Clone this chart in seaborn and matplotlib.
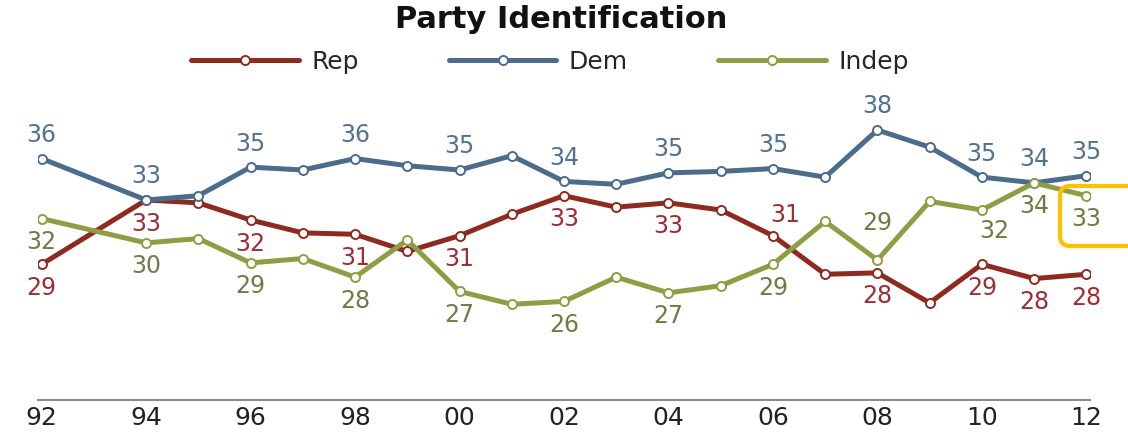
import matplotlib
matplotlib.use("Agg")
import matplotlib.pyplot as plt
import seaborn as sns
from matplotlib.patches import FancyBboxPatch
from matplotlib.transforms import IdentityTransform

# Daten (1993 fehlt, Linie wird durchgezogen)
years = [1992, 1994, 1995, 1996, 1997, 1998, 1999, 2000, 2001, 2002,
         2003, 2004, 2005, 2006, 2007, 2008, 2009, 2010, 2011, 2012]
rep = [28.6, 33.1, 32.9, 31.7, 30.8, 30.7, 29.5, 30.6, 32.1, 33.4,
       32.6, 32.9, 32.4, 30.6, 27.9, 28.0, 25.9, 28.6, 27.6, 27.9]
dem = [36.0, 33.1, 33.4, 35.4, 35.2, 36.0, 35.5, 35.2, 36.2, 34.4,
       34.2, 35.0, 35.1, 35.3, 34.7, 38.0, 36.8, 34.7, 34.3, 34.8]
indep = [31.8, 30.1, 30.4, 28.7, 29.0, 27.7, 30.3, 26.7, 25.8, 26.0,
         27.7, 26.6, 27.1, 28.6, 31.6, 28.9, 33.0, 32.4, 34.3, 33.4]
tick_years = [1992, 1994, 1996, 1998, 2000, 2002, 2004, 2006, 2008, 2010, 2012]
label_years = [1992, 1994, 1996, 1998, 2000, 2002, 2004, 2006, 2008, 2010, 2011, 2012]

series = [("Rep", rep, "#8e2b20", "#9c2f35", -17),
          ("Dem", dem, "#4b6c8a", "#52728f", 17),
          ("Indep", indep, "#8f9d45", "#717a45", -17)]

# Ausnahmen bei der Beschriftung (dx, dy in Punkten)
label_offsets = {("Rep", 2006): (9, 15), ("Indep", 2008): (0, 27),
                 ("Indep", 2010): (9, -15)}

sns.set_style("white")
plt.rcParams["font.family"] = ["DejaVu Sans"]

fig = plt.figure(figsize=(11.28, 4.34), dpi=100)
ax = fig.add_axes([38 / 1128, 1 - 400 / 434, 1052 / 1128, 305 / 434])

for name, vals, col, lab_col, dy in series:
    sns.lineplot(x=years, y=vals, ax=ax, color=col, linewidth=3.6,
                 marker="o", markersize=6.5, markerfacecolor="white",
                 markeredgecolor=col, markeredgewidth=1.4, label=name)
    for yr, v in zip(years, vals):
        if yr not in label_years:
            continue
        off = label_offsets.get((name, yr), (0, dy))
        ax.annotate(f"{v:.0f}", (yr, v), xytext=off, textcoords="offset points",
                    ha="center", va="center", fontsize=17, color=lab_col)

ax.set_xlim(1991.93, 2012.07)
ax.set_ylim(19.1, 40.45)
ax.set_xticks(tick_years)
ax.set_xticklabels([f"{y % 100:02d}" for y in tick_years], fontsize=18, color="#222222")
ax.set_yticks([])
ax.tick_params(axis="x", length=0, pad=4)
ax.set_xlabel("")
ax.set_ylabel("")
for s in ["top", "left", "right"]:
    ax.spines[s].set_visible(False)
ax.spines["bottom"].set_color("#8c8c8c")
ax.spines["bottom"].set_linewidth(1.5)

ax.legend(loc="center", bbox_to_anchor=(550 / 1128, 1 - 62 / 434),
          bbox_transform=fig.transFigure, ncol=3, frameon=False,
          fontsize=18, handlelength=4.3, handletextpad=0.5, columnspacing=3.6)

fig.suptitle("Party Identification", x=561 / 1128, y=1 - 19 / 434,
             va="center", fontsize=22, fontweight="bold", color="#111111")

# gelber Rahmen um den letzten Indep-Wert
box = FancyBboxPatch((1060, 434 - 246), 110, 60,
                     boxstyle="round,pad=0,rounding_size=10",
                     transform=IdentityTransform(), fill=False,
                     edgecolor="#ffc000", linewidth=3)
fig.patches.append(box)

fig.savefig("out.png", dpi=100)
